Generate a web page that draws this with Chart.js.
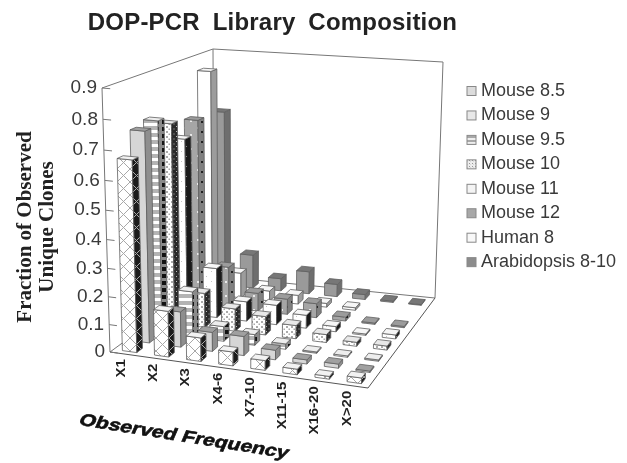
<!DOCTYPE html>
<html>
<head>
<meta charset="utf-8">
<style>
  html, body { margin: 0; padding: 0; background: #fff; }
  canvas { display: block; filter: blur(0.45px); }
</style>
<script src="https://cdn.jsdelivr.net/npm/chart.js@4"></script>
</head>
<body>
<canvas id="chart" width="627" height="463"></canvas>
<script>
// ─── DATA ───
const FREQUENCIES = ['X1', 'X2', 'X3', 'X4-6', 'X7-10', 'X11-15', 'X16-20', 'X>20'];
const SERIES = ['Mouse 8.5', 'Mouse 9', 'Mouse 9.5', 'Mouse 10', 'Mouse 11', 'Mouse 12', 'Human 8', 'Arabidopsis 8-10'];

const mouse85  = [0.67,  0.165, 0.085, 0.05,  0.035, 0.02,  0.01,  0.02];
const mouse9   = [0.745, 0.13,  0.07,  0.07,  0.035, 0.015, 0.015, 0.005];
const mouse95  = [0.76,  0.17,  0.055, 0.04,  0.02,  0.005, 0.005, 0.005];
const mouse10  = [0.73,  0.13,  0.085, 0.07,  0.05,  0.03,  0.015, 0.015];
const mouse11  = [0.655, 0.19,  0.075, 0.075, 0.05,  0.02,  0.005, 0.015];
const mouse12  = [0.70,  0.16,  0.07,  0.06,  0.055, 0.015, 0.005, 0.005];
const human8   = [0.855, 0.10,  0.04,  0.035, 0.015, 0.01,  0,     0];
const arabid   = [0.685, 0.135, 0.05,  0.09,  0.05,  0.02,  0.005, 0.003];
const SERIES_VALUES = [mouse85, mouse9, mouse95, mouse10, mouse11, mouse12, human8, arabid];

const VALUE_TICKS_STEP = 0.1;
const VALUE_MAX = 0.9;

// ─── FRAME OF THE 3D BOX (screen corners of floor and top plane) ───
const FLOOR = { fl: [110, 352], fr: [368, 388], br: [435, 298], bl: [214, 276] };
const ROOF  = { fl: [102, 88],  fr: [376, 112], br: [443, 62],  bl: [213, 49] };
const BAR_HALF = 0.225; // half bar size, as part of one cell
const FORESHORTEN = 0.075; // value axis spreads a little towards the top

function bilinear(q, u, v) {
  const lx = q.fl[0] + (q.bl[0] - q.fl[0]) * v, ly = q.fl[1] + (q.bl[1] - q.fl[1]) * v;
  const rx = q.fr[0] + (q.br[0] - q.fr[0]) * v, ry = q.fr[1] + (q.br[1] - q.fr[1]) * v;
  return [lx + (rx - lx) * u, ly + (ry - ly) * u];
}
// u along frequency, v along series, t up the value axis (all 0..1)
function project(u, v, t) {
  const a = bilinear(FLOOR, u, v), b = bilinear(ROOF, u, v);
  const k = t - FORESHORTEN * t * (1 - t);
  return [a[0] + (b[0] - a[0]) * k, a[1] + (b[1] - a[1]) * k];
}

// ─── FILL PATTERNS ───
function tile(size, bg, paint) {
  const c = document.createElement('canvas');
  c.width = size[0]; c.height = size[1];
  const g = c.getContext('2d');
  g.fillStyle = bg; g.fillRect(0, 0, size[0], size[1]);
  paint(g);
  return g.createPattern(c, 'repeat');
}
function hatch(bg, fg, n) {
  return tile([n, n], bg, g => {
    g.strokeStyle = fg; g.lineWidth = 1;
    g.beginPath();
    g.moveTo(0, 0); g.lineTo(n, n);
    g.moveTo(n, 0); g.lineTo(0, n);
    g.stroke();
  });
}
function dots(bg, fg, n, r) {
  return tile([n, n], bg, g => {
    g.fillStyle = fg;
    g.fillRect(1, 1, r, r);
    g.fillRect(1 + n / 2, 1 + n / 2, r, r);
  });
}
function bands(bg, fg, n, h) {
  return tile([n, n], bg, g => { g.fillStyle = fg; g.fillRect(0, 0, n, h); });
}
function squares(bg, fg, n, r) {
  return tile([n, n], bg, g => { g.fillStyle = fg; g.fillRect(1, 1, r, r); });
}

const FRONT_FILL = [
  hatch('#ffffff', '#a8a8a8', 13),
  '#d6d6d6',
  bands('#ffffff', '#b4b4b4', 7, 4),
  dots('#ffffff', '#aaaaaa', 5, 2),
  dots('#ffffff', '#c4c4c4', 10, 1),
  dots('#a6a6a6', '#e8e8e8', 14, 2),
  '#ffffff',
  '#9a9a9a',
];
const SIDE_FILL = [
  hatch('#1c1c1c', '#aaaaaa', 13),
  '#8e8e8e',
  squares('#8a8a8a', '#111111', 7, 4),
  dots('#2a2a2a', '#bbbbbb', 5, 1),
  dots('#1a1a1a', '#888888', 10, 1),
  dots('#808080', '#222222', 10, 2),
  '#9c9c9c',
  '#6e6e6e',
];
const TOP_FILL = ['#f2f2f2', '#a0a0a0', '#eeeeee', '#e8e8e8', '#f6f6f6', '#9c9c9c', '#f6f6f6', '#777777'];
const SWATCH_FILL = ['#dcdcdc', '#e8e8e8', bands('#eeeeee', '#a8a8a8', 4, 2), dots('#eeeeee', '#999999', 3, 1), '#f4f4f4', '#a8a8a8', '#f8f8f8', '#8c8c8c'];

// ─── 3D BAR CONTROLLER ───
class Bar3dController extends Chart.BarController {
  draw() {
    const { ctx, scales } = this.chart;
    const meta = this._cachedMeta, ds = this.index;
    const vc = scales.depth.getDecimalForPixel(scales.depth.getPixelForValue(ds));
    const cell = 1 / SERIES.length;
    const d = BAR_HALF * cell;
    meta.data.forEach((el, i) => {
      const val = meta._parsed[i].y;
      if (!val) return;
      const uc = scales.x.getDecimalForPixel(scales.x.getPixelForValue(i));
      const t = scales.y.getDecimalForPixel(scales.y.getPixelForValue(val));
      const [u0, u1, v0, v1] = [uc - d, uc + d, vc - d, vc + d];
      const face = (pts, fill) => {
        ctx.beginPath();
        pts.forEach((p, k) => k ? ctx.lineTo(p[0], p[1]) : ctx.moveTo(p[0], p[1]));
        ctx.closePath();
        ctx.fillStyle = fill;
        ctx.fill();
        ctx.lineWidth = 0.8;
        ctx.strokeStyle = '#606060';
        ctx.stroke();
      };
      face([project(u0, v0, 0), project(u1, v0, 0), project(u1, v0, t), project(u0, v0, t)], FRONT_FILL[ds]);
      face([project(u1, v0, 0), project(u1, v1, 0), project(u1, v1, t), project(u1, v0, t)], SIDE_FILL[ds]);
      face([project(u0, v0, t), project(u1, v0, t), project(u1, v1, t), project(u0, v1, t)], TOP_FILL[ds]);
    });
  }
}
Bar3dController.id = 'bar3d';
Bar3dController.defaults = Chart.BarController.defaults;
Chart.register(Bar3dController);

// ── Walls, value ticks, frequency labels, titles, legend ──
const framePlugin = {
  id: 'frame',
  beforeDatasetsDraw(chart) {
    const { ctx, scales } = chart;
    ctx.save();
    ctx.strokeStyle = '#777'; ctx.lineWidth = 1;
    const line = (a, b) => { ctx.beginPath(); ctx.moveTo(a[0], a[1]); ctx.lineTo(b[0], b[1]); ctx.stroke(); };
    line(ROOF.fl, FLOOR.fl); line(ROOF.fl, ROOF.bl); line(ROOF.bl, ROOF.br);
    line(ROOF.br, FLOOR.br); line(ROOF.bl, FLOOR.bl);
    line(FLOOR.fl, FLOOR.bl); line(FLOOR.bl, FLOOR.br);
    ctx.strokeStyle = '#555';
    line(FLOOR.fl, FLOOR.fr); line(FLOOR.fr, FLOOR.br);

    // chart title
    ctx.fillStyle = '#222';
    ctx.font = 'bold 24px "Liberation Sans"';
    ctx.textAlign = 'center'; ctx.textBaseline = 'alphabetic';
    ctx.letterSpacing = '0.2px'; ctx.wordSpacing = '6px';
    ctx.fillText('DOP-PCR Library Composition', 272.5, 30);
    ctx.letterSpacing = '0px'; ctx.wordSpacing = '0px';

    // value axis along the left front edge
    ctx.fillStyle = '#3a3a3a';
    ctx.font = '19px "Liberation Sans"';
    ctx.textAlign = 'right'; ctx.textBaseline = 'middle';
    scales.y.ticks.forEach(tick => {
      const t = scales.y.getDecimalForPixel(scales.y.getPixelForValue(tick.value));
      const p = project(0, 0, t), q = project(0.03, 0, t);
      ctx.strokeStyle = '#777';
      line(p, q);
      ctx.fillText(tick.label, p[0] - 5, p[1]);
    });

    // frequency labels under the front edge
    ctx.fillStyle = '#222';
    ctx.font = 'bold 15px "Liberation Sans"';
    ctx.textAlign = 'right';
    FREQUENCIES.forEach((label, i) => {
      const u = scales.x.getDecimalForPixel(scales.x.getPixelForValue(i));
      const p = project(u, 0, 0);
      ctx.save();
      ctx.translate(p[0] - 4.5, p[1] + 5);
      ctx.rotate(-Math.PI / 2);
      ctx.scale(1, 0.8);
      ctx.fillText(label, 0, 0);
      ctx.restore();
    });

    // value axis title
    ctx.fillStyle = '#222';
    ctx.font = 'bold 21px "Liberation Serif"';
    ctx.textAlign = 'center'; ctx.textBaseline = 'alphabetic';
    ctx.save();
    ctx.translate(31, 227);
    ctx.rotate(-Math.PI / 2);
    ctx.fillText('Fraction of Observed', 0, 0);
    ctx.fillText('Unique Clones', 0, 22);
    ctx.restore();

    // frequency axis title, slanted like the floor
    ctx.save();
    ctx.translate(184, 437);
    ctx.rotate(0.16);
    ctx.transform(1.25, 0, -0.25, 1, 0, 0);
    ctx.fillStyle = '#111'; ctx.strokeStyle = '#111'; ctx.lineWidth = 0.6;
    ctx.font = 'bold 17px "Liberation Sans"';
    ctx.textBaseline = 'middle';
    ctx.fillText('Observed Frequency', 0, 0);
    ctx.strokeText('Observed Frequency', 0, 0);
    ctx.restore();

    // legend
    ctx.font = '18px "Liberation Sans"';
    ctx.textAlign = 'left'; ctx.textBaseline = 'middle';
    SERIES.forEach((name, i) => {
      const y = 91 + i * 24.45;
      ctx.fillStyle = SWATCH_FILL[i];
      ctx.strokeStyle = '#888';
      ctx.fillRect(467, y - 4.5, 9, 9);
      ctx.strokeRect(467, y - 4.5, 9, 9);
      ctx.fillStyle = '#3a3a3a';
      ctx.fillText(name, 481, y);
    });
    ctx.restore();
  },
};

new Chart(document.getElementById('chart'), {
  type: 'bar3d',
  data: {
    labels: FREQUENCIES,
    datasets: SERIES.map((name, i) => ({ label: name, data: SERIES_VALUES[i], clip: false })),
  },
  plugins: [framePlugin],
  options: {
    responsive: false,
    animation: false,
    plugins: { tooltip: { enabled: false }, legend: { display: false } },
    scales: {
      x: { type: 'category', offset: true, display: false },
      y: { type: 'linear', min: 0, max: VALUE_MAX, ticks: { stepSize: VALUE_TICKS_STEP }, display: false },
      depth: { type: 'category', axis: 'x', labels: SERIES, offset: true, display: false },
    },
  },
});
</script>
</body>
</html>
